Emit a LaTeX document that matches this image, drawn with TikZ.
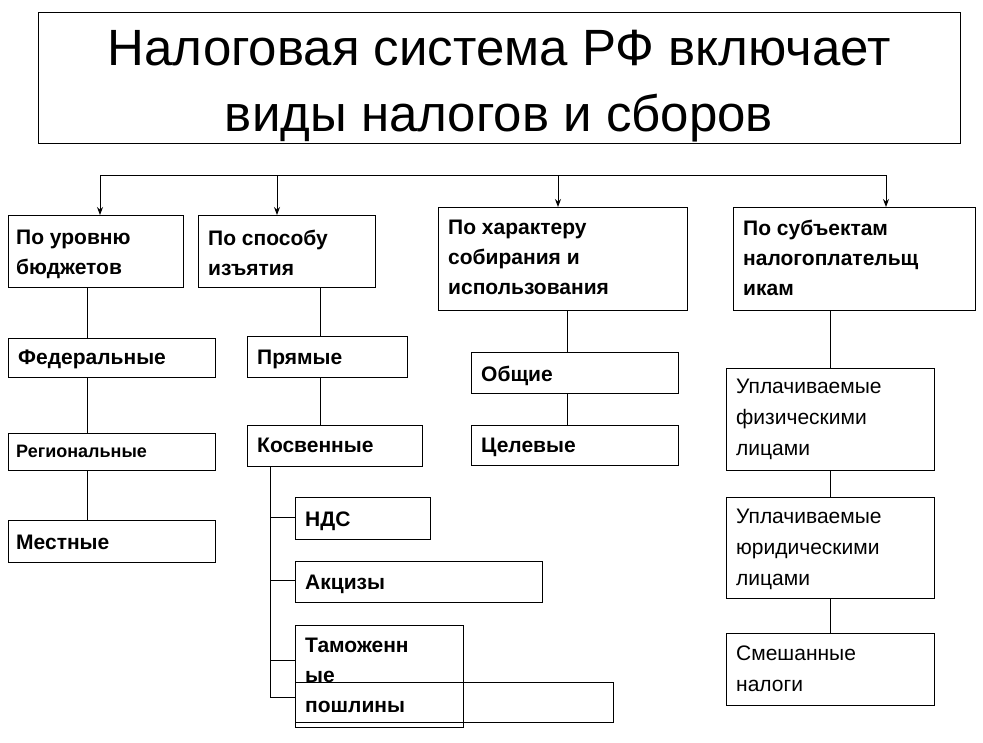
\documentclass[tikz,border=0pt]{standalone}
\usepackage{fontspec}
\setmainfont{Liberation Sans}
\usetikzlibrary{arrows.meta}
\begin{document}
\begin{tikzpicture}[x=1pt,y=-1pt,
 bx/.style={draw,line width=1pt},
 ln/.style={line width=1pt},
 tb/.style={anchor=north west,align=left,font=\fontsize{21}{30}\selectfont\bfseries,inner sep=0pt},
 tn/.style={anchor=north west,align=left,font=\fontsize{21}{31}\selectfont,inner sep=0pt}]
\useasboundingbox (0,0) rectangle (983,742);
\draw[bx] (38,12) rectangle (960,143);
\node[align=center,font=\fontsize{51}{66}\selectfont] (title) at (499,86) {Налоговая система РФ включает\\виды налогов и сборов};
\draw[ln] (100,175) -- (886,175);
\foreach \x/\y in {100/215,277/215,558/207,886/207}
  \draw[ln,-{Stealth[length=8pt,width=6pt]}] (\x,175) -- (\x,\y);
% boxes
\draw[bx] (8,215) rectangle (183,287);
\node[tb] (a) at (16,230) {По уровню\\бюджетов};
\draw[bx] (198,215) rectangle (375,287);
\node[tb] (b) at (208,230) {По способу\\изъятия};
\draw[bx] (438,207) rectangle (687,310);
\node[tb] (c) at (448,220) {По характеру\\собирания и\\использования};
\draw[bx] (733,207) rectangle (975,310);
\node[tb] (d) at (743,220) {По субъектам\\налогоплательщ\\икам};
% column 1
\draw[ln] (87,287) -- (87,338);
\draw[bx] (8,338) rectangle (215,377);
\node[tb] (a1) at (18,350) {Федеральные};
\draw[ln] (87,377) -- (87,433);
\draw[bx] (8,433) rectangle (215,470);
\node[tb,font=\fontsize{18}{20}\selectfont\bfseries] (a2) at (16,445) {Региональные};
\draw[ln] (87,470) -- (87,520);
\draw[bx] (8,520) rectangle (215,562);
\node[tb] (a3) at (16,535) {Местные};
% column 2
\draw[ln] (320,287) -- (320,336);
\draw[bx] (247,336) rectangle (407,377);
\node[tb] (b1) at (257,350) {Прямые};
\draw[ln] (320,377) -- (320,425);
\draw[bx] (247,425) rectangle (422,466);
\node[tb] (b2) at (257,438) {Косвенные};
\draw[ln] (270,466) -- (270,697);
\foreach \y in {517,580,660,697} \draw[ln] (270,\y) -- (295,\y);
\draw[bx] (295,497) rectangle (430,539);
\node[tb] (n1) at (305,512) {НДС};
\draw[bx] (295,561) rectangle (542,602);
\node[tb] (n2) at (305,575) {Акцизы};
\draw[bx] (295,625) rectangle (463,727);
\draw[bx] (295,682) rectangle (613,722);
\node[tb] (n3) at (305,638) {Таможенн\\ые\\пошлины};
% column 3
\draw[ln] (567,310) -- (567,352);
\draw[bx] (471,352) rectangle (678,393);
\node[tb] (c1) at (481,366) {Общие};
\draw[ln] (567,393) -- (567,425);
\draw[bx] (471,425) rectangle (678,465);
\node[tb] (c2) at (481,438) {Целевые};
% column 4
\draw[ln] (830,310) -- (830,368);
\draw[bx] (726,368) rectangle (934,470);
\node[tn] (d1) at (736,379) {Уплачиваемые\\физическими\\лицами};
\draw[ln] (830,470) -- (830,497);
\draw[bx] (726,497) rectangle (934,598);
\node[tn] (d2) at (736,509) {Уплачиваемые\\юридическими\\лицами};
\draw[ln] (830,598) -- (830,633);
\draw[bx] (726,633) rectangle (934,705);
\node[tn] (d3) at (736,646) {Смешанные\\налоги};
\end{tikzpicture}
\end{document}
